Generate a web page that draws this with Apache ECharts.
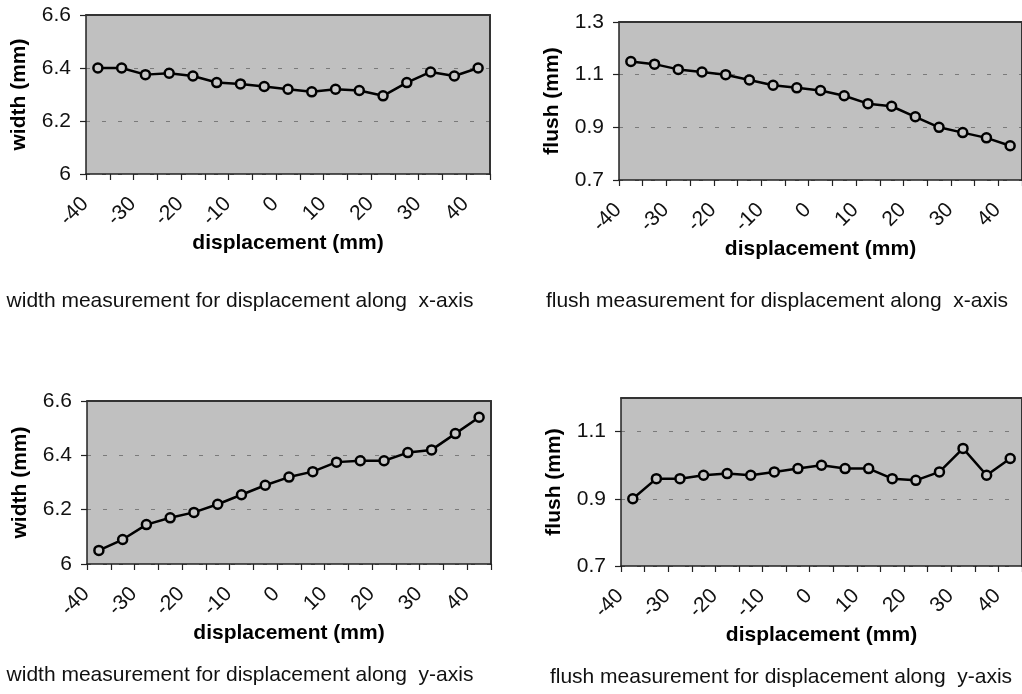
<!DOCTYPE html>
<html>
<head>
<meta charset="utf-8">
<script src="https://cdn.jsdelivr.net/npm/echarts@6/dist/echarts.min.js"></script>
<style>
  html, body { margin: 0; padding: 0; background: #ffffff; }
  #chart { width: 1022px; height: 694px; }
</style>
</head>
<body>
<div id="chart"></div>
<script>
// ---- data ----
const displacement = ['-40', '-35', '-30', '-25', '-20', '-15', '-10', '-5', '0', '5', '10', '15', '20', '25', '30', '35', '40'];
const widthAlongX = [6.40, 6.40, 6.375, 6.38, 6.37, 6.345, 6.34, 6.33, 6.32, 6.31, 6.32, 6.315, 6.295, 6.345, 6.385, 6.37, 6.40];
const flushAlongX = [1.15, 1.14, 1.12, 1.11, 1.10, 1.08, 1.06, 1.05, 1.04, 1.02, 0.99, 0.98, 0.94, 0.90, 0.88, 0.86, 0.83];
const widthAlongY = [6.05, 6.09, 6.145, 6.17, 6.19, 6.22, 6.255, 6.29, 6.32, 6.34, 6.375, 6.38, 6.38, 6.41, 6.42, 6.48, 6.54];
const flushAlongY = [0.90, 0.96, 0.96, 0.97, 0.975, 0.97, 0.98, 0.99, 1.00, 0.99, 0.99, 0.96, 0.955, 0.98, 1.05, 0.97, 1.02];

const widthTicks = [6, 6.2, 6.4, 6.6];
const flushTicksX = [0.7, 0.9, 1.1, 1.3];
const flushTicksY = [0.7, 0.9, 1.1];
const flushMaxY = 1.2;

const xAxisName = 'displacement (mm)';
const yNames = ['width (mm)', 'flush (mm)', 'width (mm)', 'flush (mm)'];
const captions = [
  'width measurement for displacement along  x-axis',
  'flush measurement for displacement along  x-axis',
  'width measurement for displacement along  y-axis',
  'flush measurement for displacement along  y-axis'
];

// ---- layout ----
const FONT = 'Liberation Sans, Arial, sans-serif';
const grids = [
  { left: 86, top: 15, width: 404, height: 159 },
  { left: 619, top: 22, width: 404, height: 158 },
  { left: 87, top: 401, width: 404, height: 163 },
  { left: 621, top: 398, width: 403, height: 168 }
];
const panels = [
  { data: widthAlongX, ticks: widthTicks, max: widthTicks[widthTicks.length - 1] },
  { data: flushAlongX, ticks: flushTicksX, max: flushTicksX[flushTicksX.length - 1] },
  { data: widthAlongY, ticks: widthTicks, max: widthTicks[widthTicks.length - 1] },
  { data: flushAlongY, ticks: flushTicksY, max: flushMaxY }
];
const captionPos = [
  { x: 240, y: 303 },
  { x: 777, y: 303 },
  { x: 240, y: 677 },
  { x: 781, y: 679 }
];

const xAxes = [], yAxes = [], series = [], titles = [];
panels.forEach((p, i) => {
  const interval = Math.round((p.ticks[1] - p.ticks[0]) * 1000) / 1000;
  xAxes.push({
    type: 'category', gridIndex: i, data: displacement, position: 'bottom',
    boundaryGap: true, z: 3,
    name: xAxisName, nameLocation: 'middle', nameGap: 55,
    nameTextStyle: { fontFamily: FONT, fontSize: 21, fontWeight: 'bold', color: '#000' },
    axisLine: { show: true, lineStyle: { color: '#222', width: 1.5 } },
    axisTick: { show: true, interval: 0, length: 6, lineStyle: { color: '#222', width: 1.2 } },
    axisLabel: {
      interval: 1, rotate: 45, margin: 14, padding: [0, 18, 0, 0],
      fontFamily: FONT, fontSize: 21, color: '#111'
    },
    splitLine: { show: false }
  });
  yAxes.push({
    type: 'value', gridIndex: i, position: 'left',
    min: p.ticks[0], max: p.max, interval: interval, z: 1,
    name: yNames[i], nameLocation: 'middle', nameGap: 56,
    nameTextStyle: { fontFamily: FONT, fontSize: 21, fontWeight: 'bold', color: '#000' },
    axisLine: { show: true, lineStyle: { color: '#222', width: 1.5 } },
    axisTick: { show: true, length: 6, lineStyle: { color: '#222', width: 1.2 }, customValues: p.ticks },
    axisLabel: {
      margin: 15, fontFamily: FONT, fontSize: 21, color: '#111',
      customValues: p.ticks
    },
    splitLine: { show: true, lineStyle: { color: '#7a7a7a', width: 1, type: [4, 12] } }
  });
  series.push({
    type: 'line', xAxisIndex: i, yAxisIndex: i, data: p.data,
    symbol: 'circle', symbolSize: 9,
    lineStyle: { color: '#000', width: 2.5 },
    itemStyle: { color: '#c8c8c8', borderColor: '#000', borderWidth: 2.5 },
    emphasis: { disabled: true },
    z: 4
  });
  titles.push({
    text: captions[i], left: captionPos[i].x, top: captionPos[i].y - 12, textAlign: 'center',
    padding: 0,
    textStyle: { fontFamily: FONT, fontSize: 21, fontWeight: 'normal', color: '#111' }
  });
});
// frame (top and right edges of each plot area)
panels.forEach((p, i) => {
  xAxes.push({
    type: 'category', gridIndex: i, data: displacement, position: 'top', z: 3,
    axisLine: { show: true, lineStyle: { color: '#333', width: 2 } },
    axisTick: { show: false }, axisLabel: { show: false }, splitLine: { show: false }
  });
  yAxes.push({
    type: 'value', gridIndex: i, position: 'right', z: 3,
    min: p.ticks[0], max: p.max,
    axisLine: { show: true, lineStyle: { color: '#333', width: 2 } },
    axisTick: { show: false }, axisLabel: { show: false }, splitLine: { show: false }
  });
});

const chart = echarts.init(document.getElementById('chart'), null, { renderer: 'canvas' });
chart.setOption({
  animation: false,
  backgroundColor: '#ffffff',
  title: titles,
  grid: grids.map(g => Object.assign({ show: true, backgroundColor: '#c0c0c0', borderWidth: 0, containLabel: false }, g)),
  xAxis: xAxes,
  yAxis: yAxes,
  series: series
});
</script>
</body>
</html>
